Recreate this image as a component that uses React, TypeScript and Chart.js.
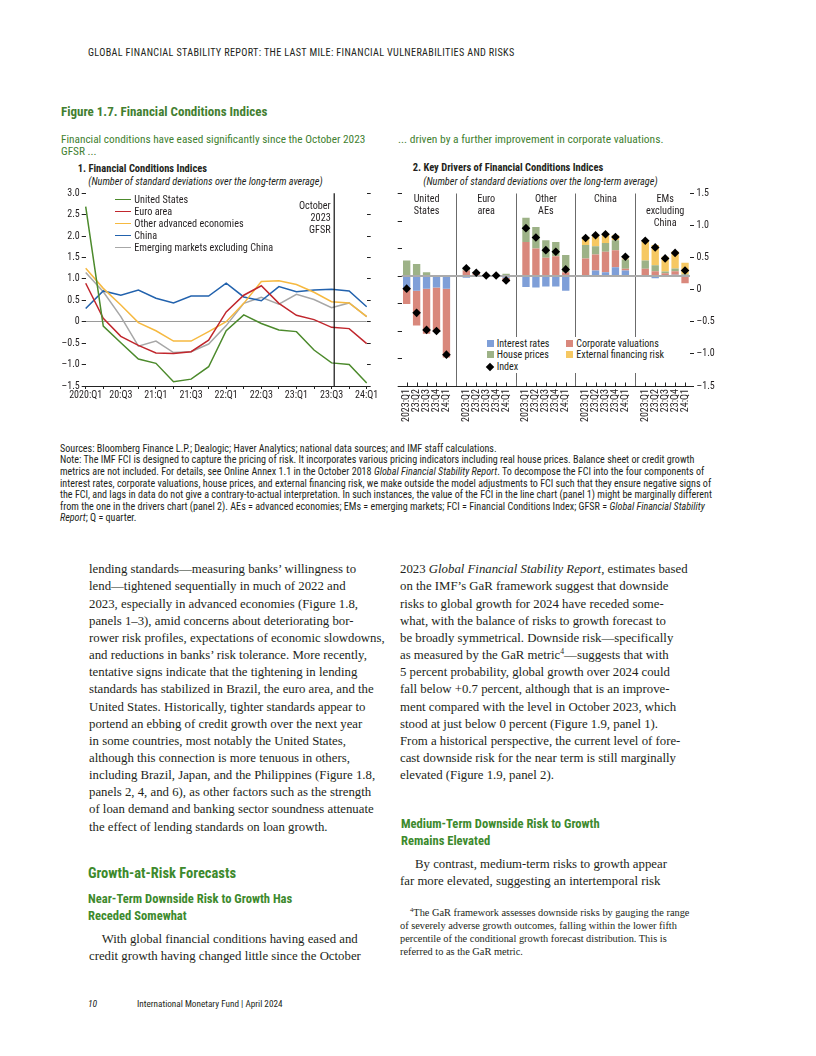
import React, { useEffect, useRef } from "react";
import { Chart, registerables } from "chart.js";

Chart.register(...registerables);

const NARROW = "'Roboto Condensed', 'Open Sans Condensed', 'DejaVu Sans Condensed', sans-serif";
const SERIF = "'Liberation Serif', 'Times New Roman', serif";
const INK = "#231f20";
const GREEN = "#437f31";
const HEAD_GREEN = "#3d8a2d";

// ---------------- Panel 1 data ----------------
const QUARTERS = ["2020:Q1", "20:Q2", "20:Q3", "20:Q4", "21:Q1", "21:Q2", "21:Q3", "21:Q4", "22:Q1", "22:Q2", "22:Q3", "22:Q4", "23:Q1", "23:Q2", "23:Q3", "23:Q4", "24:Q1"];
const UNITED_STATES = [2.69, -0.10, -0.49, -0.87, -0.97, -1.40, -1.34, -1.05, -0.21, 0.16, -0.04, -0.19, -0.23, -0.66, -0.96, -1.00, -1.43];
const EURO_AREA = [0.90, 0.08, -0.34, -0.55, -0.73, -0.74, -0.70, -0.43, 0.23, 0.62, 0.84, 0.43, 0.15, 0.05, -0.13, -0.16, -0.51];
const OTHER_AES = [1.25, 0.78, 0.39, -0.02, -0.21, -0.45, -0.45, -0.23, 0.00, 0.43, 0.94, 0.96, 0.87, 0.69, 0.47, 0.44, 0.12];
const CHINA = [0.31, 0.72, 0.62, 0.74, 0.55, 0.44, 0.60, 0.60, 0.90, 0.58, 0.49, 0.82, 0.70, 0.74, 0.76, 0.72, 0.35];
const EMS_EX_CHINA = [1.15, 0.70, 0.12, -0.57, -0.45, -0.72, -0.70, -0.52, -0.09, 0.43, 0.57, 0.41, 0.64, 0.52, 0.33, 0.44, 0.12];
const GFSR_POSITION = 14.15;
const GFSR_LABEL = ["October", "2023", "GFSR"];

const LINE_SERIES = [
  { label: "United States", data: UNITED_STATES, color: "#4c8a2c" },
  { label: "Euro area", data: EURO_AREA, color: "#c1272d" },
  { label: "Other advanced economies", data: OTHER_AES, color: "#f6b940" },
  { label: "China", data: CHINA, color: "#2262ad" },
  { label: "Emerging markets excluding China", data: EMS_EX_CHINA, color: "#a7a7a7" },
];

// ---------------- Panel 2 data ----------------
const DRIVER_QUARTERS = ["2023:Q1", "23:Q2", "23:Q3", "23:Q4", "24:Q1"];
const DRIVER_GROUPS = [["United", "States"], ["Euro", "area"], ["Other", "AEs"], ["China"], ["EMs", "excluding", "China"]];
// order within each list: US, Euro area, Other AEs, China, EMs excluding China (5 quarters each)
const INTEREST_RATES = [
  -0.24, -0.27, -0.23, -0.21, -0.23,
  -0.03, -0.02, -0.01, -0.01, -0.03,
  -0.20, -0.21, -0.19, -0.19, -0.27,
  0.01, 0.10, 0.07, 0.16, 0.10,
  0.01, -0.04, 0.01, 0.025, 0.0,
];
const CORPORATE_VALUATIONS = [
  -0.27, -0.63, -0.82, -0.81, -1.25,
  0.10, 0.05, 0.01, 0.01, -0.07,
  0.62, 0.50, 0.33, 0.36, 0.07,
  0.31, 0.29, 0.37, 0.31, 0.03,
  0.12, 0.085, 0.04, 0.06, -0.13,
];
const HOUSE_PRICES = [
  0.28, 0.22, 0.07, 0.0, 0.0,
  0.03, 0.01, 0.01, 0.01, 0.04,
  0.44, 0.39, 0.32, 0.26, 0.31,
  0.245, 0.15, 0.16, 0.18, 0.17,
  0.15, 0.11, 0.03, 0.05, 0.03,
];
const EXTERNAL_FINANCING = [
  0, 0, 0, 0, 0,
  0, 0, 0, 0, 0,
  0, 0, 0, 0, 0,
  0.15, 0.20, 0.17, 0.09, 0.02,
  0.35, 0.37, 0.27, 0.31, 0.21,
];
const INDEX_VALUES = [
  -0.23, -0.67, -0.98, -1.00, -1.43,
  0.14, 0.06, 0.01, 0.01, -0.08,
  0.87, 0.70, 0.47, 0.44, 0.12,
  0.69, 0.74, 0.76, 0.71, 0.35,
  0.64, 0.52, 0.32, 0.42, 0.10,
];

const DRIVER_SERIES = [
  { label: "Interest rates", data: INTEREST_RATES, color: "#7f9fd8" },
  { label: "Corporate valuations", data: CORPORATE_VALUATIONS, color: "#d9887c" },
  { label: "House prices", data: HOUSE_PRICES, color: "#9db287" },
  { label: "External financing risk", data: EXTERNAL_FINANCING, color: "#f6c862" },
];

// build category list with a blank category between groups
const GAP_INDICES: number[] = [];
const DRIVER_LABELS: string[] = [];
DRIVER_GROUPS.forEach((_, g) => {
  DRIVER_QUARTERS.forEach((q) => DRIVER_LABELS.push(q));
  if (g < DRIVER_GROUPS.length - 1) {
    GAP_INDICES.push(DRIVER_LABELS.length);
    DRIVER_LABELS.push("");
  }
});
function withGaps(values: number[]): (number | null)[] {
  const out: (number | null)[] = [];
  DRIVER_GROUPS.forEach((_, g) => {
    for (let q = 0; q < DRIVER_QUARTERS.length; q++) out.push(values[g * DRIVER_QUARTERS.length + q]);
    if (g < DRIVER_GROUPS.length - 1) out.push(null);
  });
  return out;
}

const fmtTick = (v: number) => (v === 0 ? "0" : (v < 0 ? "\u2013" : "") + Math.abs(v).toFixed(1));
const tickFont = { family: NARROW, size: 10 };

// ---------------- Panel 1 chart ----------------
const gfsrPlugin = {
  id: "gfsrLine",
  afterDatasetsDraw(chart: any) {
    const { ctx, chartArea, scales } = chart;
    const px = scales.x.getPixelForValue(GFSR_POSITION);
    ctx.save();
    ctx.strokeStyle = "#111";
    ctx.lineWidth = 1.2;
    ctx.beginPath();
    ctx.moveTo(px, chartArea.top);
    ctx.lineTo(px, chartArea.bottom);
    ctx.stroke();
    ctx.fillStyle = INK;
    ctx.font = `10.2px ${NARROW}`;
    ctx.textAlign = "right";
    ctx.textBaseline = "middle";
    GFSR_LABEL.forEach((t, i) => ctx.fillText(t, px - 3.5, chartArea.top + 13.4 + i * 11.7));
    ctx.restore();
  },
};

function FciChart() {
  const ref = useRef<HTMLCanvasElement>(null);
  useEffect(() => {
    const chart = new Chart(ref.current as HTMLCanvasElement, {
      type: "line",
      data: {
        labels: QUARTERS,
        datasets: LINE_SERIES.map((s) => ({
          label: s.label,
          data: s.data,
          borderColor: s.color,
          backgroundColor: s.color,
          borderWidth: 1.5,
          pointRadius: 0,
          tension: 0,
        })),
      },
      options: {
        responsive: false,
        animation: false,
        layout: { padding: { top: 8.3, left: 0, right: 0, bottom: 0 } },
        plugins: { legend: { display: false }, tooltip: { enabled: false } },
        scales: {
          x: {
            type: "category",
            offset: false,
            border: { display: true, color: "#222", width: 1 },
            grid: { display: true, drawOnChartArea: false, drawTicks: true, tickLength: 3, tickColor: "#222" },
            ticks: {
              autoSkip: false,
              maxRotation: 0,
              minRotation: 0,
              padding: 0,
              color: INK,
              font: tickFont,
              callback: (_v: any, i: number) => (i % 2 === 0 ? QUARTERS[i] : ""),
            },
            afterFit: (s: any) => { s.height = 24; },
          },
          y: {
            position: "left",
            min: -1.5,
            max: 3,
            border: { display: false },
            grid: {
              drawOnChartArea: true,
              drawTicks: true,
              tickLength: 4,
              tickColor: "#222",
              color: (c: any) => (c.tick && c.tick.value === 0 ? "#9a9a9a" : "rgba(0,0,0,0)"),
            },
            ticks: { stepSize: 0.5, padding: 2, color: INK, font: tickFont, callback: (v: any) => fmtTick(Number(v)) },
            afterFit: (s: any) => { s.width = 35.7; },
          },
          y2: {
            position: "right",
            min: -1.5,
            max: 3,
            border: { display: false },
            grid: { drawOnChartArea: false, drawTicks: true, tickLength: 4, tickColor: "#222" },
            ticks: { stepSize: 0.5, padding: 0, font: tickFont, callback: () => "" },
            afterFit: (s: any) => { s.width = 13.3; },
          },
        },
      } as any,
      plugins: [gfsrPlugin],
    });
    return () => chart.destroy();
  }, []);
  return (
    <canvas
      ref={ref}
      width={330}
      height={225}
      style={{ position: "absolute", left: 50, top: 185, width: 330, height: 225 }}
    />
  );
}

// ---------------- Panel 2 chart ----------------
const INDEX_DATASET = DRIVER_SERIES.length;
const driversPlugin = {
  id: "driversDecor",
  beforeDatasetDraw(chart: any, args: any) {
    if (args.index !== INDEX_DATASET) return;
    const { ctx, chartArea, scales } = chart;
    const y0 = scales.y.getPixelForValue(0);
    ctx.save();
    ctx.strokeStyle = "#ababab";
    ctx.lineWidth = 2;
    ctx.beginPath();
    ctx.moveTo(chartArea.left, y0);
    ctx.lineTo(chartArea.right, y0);
    ctx.stroke();
    ctx.restore();
  },
  afterDraw(chart: any) {
    const { ctx, chartArea, scales } = chart;
    ctx.save();
    // small inside ticks on the category axis
    ctx.strokeStyle = "#222";
    ctx.lineWidth = 1;
    DRIVER_LABELS.forEach((_, i) => {
      if (GAP_INDICES.includes(i)) return;
      const px = Math.round(scales.x.getPixelForValue(i)) + 0.5;
      ctx.beginPath();
      ctx.moveTo(px, chartArea.bottom);
      ctx.lineTo(px, chartArea.bottom - 3.5);
      ctx.stroke();
    });
    // group names
    ctx.fillStyle = INK;
    ctx.font = `10.2px ${NARROW}`;
    ctx.textAlign = "center";
    ctx.textBaseline = "middle";
    DRIVER_GROUPS.forEach((lines, g) => {
      const px = scales.x.getPixelForValue(g * (DRIVER_QUARTERS.length + 1) + 2);
      lines.forEach((t, k) => ctx.fillText(t, px, chartArea.top + 6.2 + k * 12));
    });
    ctx.restore();
  },
};

function DriversChart() {
  const ref = useRef<HTMLCanvasElement>(null);
  useEffect(() => {
    const chart = new Chart(ref.current as HTMLCanvasElement, {
      type: "bar",
      data: {
        labels: DRIVER_LABELS,
        datasets: [
          ...DRIVER_SERIES.map((s) => ({
            type: "bar" as const,
            label: s.label,
            data: withGaps(s.data),
            backgroundColor: s.color,
            borderWidth: 0,
            categoryPercentage: 0.74,
            barPercentage: 1,
            stack: "drivers",
            order: 1,
          })),
          {
            type: "line" as const,
            label: "Index",
            data: withGaps(INDEX_VALUES),
            showLine: false,
            pointStyle: "rectRot",
            pointRadius: 4.3,
            pointBackgroundColor: "#000",
            pointBorderColor: "#000",
            pointBorderWidth: 0,
            stack: "index",
            order: 0,
          },
        ],
      },
      options: {
        responsive: false,
        animation: false,
        layout: { padding: { top: 8.3, left: 0, right: 0, bottom: 0 } },
        plugins: { legend: { display: false }, tooltip: { enabled: false } },
        scales: {
          x: {
            type: "category",
            stacked: true,
            offset: true,
            border: { display: true, color: "#222", width: 1 },
            grid: {
              offset: false,
              drawOnChartArea: true,
              drawTicks: false,
              color: (c: any) => (GAP_INDICES.includes(c.index) ? "#6b6b6b" : "rgba(0,0,0,0)"),
              lineWidth: 1,
            },
            ticks: { autoSkip: false, maxRotation: 90, minRotation: 90, padding: 3, color: INK, font: tickFont },
            afterFit: (s: any) => { s.height = 49; },
          },
          y: {
            position: "left",
            stacked: true,
            min: -2,
            max: 1.5,
            border: { display: false },
            grid: { drawOnChartArea: false, drawTicks: true, tickLength: 4, tickColor: "#222" },
            ticks: { stepSize: 0.5, padding: 0, font: tickFont, callback: () => "" },
            afterFit: (s: any) => { s.width = 16.7; },
          },
          y2: {
            position: "right",
            min: -1.5,
            max: 1.5,
            border: { display: false },
            grid: { drawOnChartArea: false, drawTicks: true, tickLength: 4, tickColor: "#222" },
            ticks: { stepSize: 0.5, padding: 2.5, color: INK, font: tickFont, callback: (v: any) => fmtTick(Number(v)) },
            afterFit: (s: any) => { s.width = 40; },
          },
        },
      } as any,
      plugins: [driversPlugin],
    });
    return () => chart.destroy();
  }, []);
  return (
    <canvas
      ref={ref}
      width={345}
      height={250}
      style={{ position: "absolute", left: 385, top: 185, width: 345, height: 250 }}
    />
  );
}

// ---------------- text helpers ----------------
type TxtProps = {
  x: number;
  cy: number;
  size: number;
  lh?: number;
  family?: string;
  weight?: number;
  italic?: boolean;
  color?: string;
  ls?: number;
  children?: React.ReactNode;
};
function Txt({ x, cy, size, lh, family = NARROW, weight = 400, italic = false, color = INK, ls = 0, children }: TxtProps) {
  const h = lh ?? size * 1.2;
  return (
    <div
      style={{
        position: "absolute",
        left: x,
        top: cy - h / 2,
        fontSize: size,
        lineHeight: `${h}px`,
        fontFamily: family,
        fontWeight: weight,
        fontStyle: italic ? "italic" : "normal",
        color,
        letterSpacing: ls,
        whiteSpace: "nowrap",
      }}
    >
      {children}
    </div>
  );
}

const NOTE_LINES: React.ReactNode[] = [
  "Sources: Bloomberg Finance L.P.; Dealogic; Haver Analytics; national data sources; and IMF staff calculations.",
  "Note: The IMF FCI is designed to capture the pricing of risk. It incorporates various pricing indicators including real house prices. Balance sheet or credit growth",
  <>metrics are not included. For details, see Online Annex 1.1 in the October 2018 <i>Global Financial Stability Report</i>. To decompose the FCI into the four components of</>,
  "interest rates, corporate valuations, house prices, and external financing risk, we make outside the model adjustments to FCI such that they ensure negative signs of",
  "the FCI, and lags in data do not give a contrary-to-actual interpretation. In such instances, the value of the FCI in the line chart (panel 1) might be marginally different",
  <>from the one in the drivers chart (panel 2). AEs = advanced economies; EMs = emerging markets; FCI = Financial Conditions Index; GFSR = <i>Global Financial Stability</i></>,
  <><i>Report</i>; Q = quarter.</>,
];

const LEFT_BODY = [
  "lending standards\u2014measuring banks\u2019 willingness to",
  "lend\u2014tightened sequentially in much of 2022 and",
  "2023, especially in advanced economies (Figure 1.8,",
  "panels 1\u20133), amid concerns about deteriorating bor-",
  "rower risk profiles, expectations of economic slowdowns,",
  "and reductions in banks\u2019 risk tolerance. More recently,",
  "tentative signs indicate that the tightening in lending",
  "standards has stabilized in Brazil, the euro area, and the",
  "United States. Historically, tighter standards appear to",
  "portend an ebbing of credit growth over the next year",
  "in some countries, most notably the United States,",
  "although this connection is more tenuous in others,",
  "including Brazil, Japan, and the Philippines (Figure 1.8,",
  "panels 2, 4, and 6), as other factors such as the strength",
  "of loan demand and banking sector soundness attenuate",
  "the effect of lending standards on loan growth.",
];

const RIGHT_BODY: React.ReactNode[] = [
  <>2023 <i>Global Financial Stability Report</i>, estimates based</>,
  "on the IMF\u2019s GaR framework suggest that downside",
  "risks to global growth for 2024 have receded some-",
  "what, with the balance of risks to growth forecast to",
  "be broadly symmetrical. Downside risk\u2014specifically",
  <>as measured by the GaR metric<sup style={{ fontSize: "0.6em", lineHeight: 0 }}>4</sup>{"\u2014suggests that with"}</>,
  "5 percent probability, global growth over 2024 could",
  "fall below +0.7 percent, although that is an improve-",
  "ment compared with the level in October 2023, which",
  "stood at just below 0 percent (Figure 1.9, panel 1).",
  "From a historical perspective, the current level of fore-",
  "cast downside risk for the near term is still marginally",
  "elevated (Figure 1.9, panel 2).",
];

const FOOTNOTE: React.ReactNode[] = [
  <><sup style={{ fontSize: "0.65em", lineHeight: 0 }}>4</sup>The GaR framework assesses downside risks by gauging the range</>,
  "of severely adverse growth outcomes, falling within the lower fifth",
  "percentile of the conditional growth forecast distribution. This is",
  "referred to as the GaR metric.",
];

const BODY_SIZE = 12.8;
const BODY_STEP = 17.15;

export default function App() {
  return (
    <div style={{ position: "absolute", left: 0, top: 0, width: 816, height: 1056, background: "#fff", overflow: "hidden" }}>
      <Txt x={88} cy={52.7} size={10.2} ls={0.33}>GLOBAL FINANCIAL STABILITY REPORT: THE LAST MILE: FINANCIAL VULNERABILITIES AND RISKS</Txt>

      <Txt x={61} cy={111.7} size={13} weight={700} color={GREEN}>Figure 1.7. Financial Conditions Indices</Txt>
      <Txt x={61} cy={139.5} size={11.3} lh={11} color={GREEN}>Financial conditions have eased significantly since the October 2023</Txt>
      <Txt x={61} cy={151} size={11.3} lh={11} color={GREEN}>GFSR ...</Txt>
      <Txt x={398} cy={139.5} size={11.5} lh={11} color={GREEN}>... driven by a further improvement in corporate valuations.</Txt>

      <Txt x={77.7} cy={168.3} size={10.5} lh={11} weight={700}>1. Financial Conditions Indices</Txt>
      <Txt x={88.3} cy={181} size={10.25} lh={11} italic>(Number of standard deviations over the long-term average)</Txt>
      <Txt x={412.7} cy={167.8} size={10.5} lh={11} weight={700}>2. Key Drivers of Financial Conditions Indices</Txt>
      <Txt x={423.3} cy={181} size={10.25} lh={11} italic>(Number of standard deviations over the long-term average)</Txt>

      <FciChart />
      <DriversChart />

      {LINE_SERIES.map((s, i) => (
        <React.Fragment key={s.label}>
          <div style={{ position: "absolute", left: 115, top: 199.5 + i * 12 - 0.8, width: 16, height: 1.6, background: s.color }} />
          <Txt x={134.3} cy={199.5 + i * 12} size={10.2} lh={11.5}>{s.label}</Txt>
        </React.Fragment>
      ))}

      <div style={{ position: "absolute", left: 483, top: 336.5, width: 186, height: 36, background: "#fff" }} />
      {[
        { s: DRIVER_SERIES[0], x: 486.5, row: 0 },
        { s: DRIVER_SERIES[2], x: 486.5, row: 1 },
        { s: DRIVER_SERIES[1], x: 566, row: 0 },
        { s: DRIVER_SERIES[3], x: 566, row: 1 },
      ].map(({ s, x, row }) => (
        <React.Fragment key={s.label}>
          <div style={{ position: "absolute", left: x, top: 343.3 + row * 11.6 - 3.6, width: 7.2, height: 7.2, background: s.color }} />
          <Txt x={x + 10.2} cy={343.3 + row * 11.6} size={10.1} lh={11}>{s.label}</Txt>
        </React.Fragment>
      ))}
      <div style={{ position: "absolute", left: 487.1, top: 343.3 + 2 * 11.6 - 3, width: 6, height: 6, background: "#000", transform: "rotate(45deg)" }} />
      <Txt x={496.7} cy={343.3 + 2 * 11.6} size={10.1} lh={11}>Index</Txt>

      {NOTE_LINES.map((t, i) => (
        <Txt key={i} x={60} cy={448.5 + i * 11.6} size={10.1} lh={11.4}>{t}</Txt>
      ))}

      {LEFT_BODY.map((t, i) => (
        <Txt key={i} x={89} cy={570 + i * BODY_STEP} size={BODY_SIZE} family={SERIF}>{t}</Txt>
      ))}
      {RIGHT_BODY.map((t, i) => (
        <Txt key={i} x={400} cy={570 + i * BODY_STEP} size={BODY_SIZE} family={SERIF}>{t}</Txt>
      ))}

      <Txt x={88} cy={873.3} size={14.5} weight={700} color={HEAD_GREEN}>Growth-at-Risk Forecasts</Txt>
      <Txt x={88} cy={898.3} size={12.6} lh={15} weight={700} color={HEAD_GREEN}>Near-Term Downside Risk to Growth Has</Txt>
      <Txt x={88} cy={915} size={12.6} lh={15} weight={700} color={HEAD_GREEN}>Receded Somewhat</Txt>
      <Txt x={101.7} cy={939.3} size={BODY_SIZE} family={SERIF}>With global financial conditions having eased and</Txt>
      <Txt x={89} cy={956.2} size={BODY_SIZE} family={SERIF}>credit growth having changed little since the October</Txt>

      <Txt x={401} cy={823.3} size={12.6} lh={15} weight={700} color={HEAD_GREEN}>Medium-Term Downside Risk to Growth</Txt>
      <Txt x={401} cy={840} size={12.6} lh={15} weight={700} color={HEAD_GREEN}>Remains Elevated</Txt>
      <Txt x={415} cy={865} size={BODY_SIZE} family={SERIF}>By contrast, medium-term risks to growth appear</Txt>
      <Txt x={400} cy={881.8} size={BODY_SIZE} family={SERIF}>far more elevated, suggesting an intertemporal risk</Txt>

      {FOOTNOTE.map((t, i) => (
        <Txt key={i} x={i === 0 ? 410 : 400} cy={913.3 + i * 12.8} size={10.35} lh={12.4} family={SERIF}>{t}</Txt>
      ))}

      <Txt x={88} cy={1004} size={9.6} italic>10</Txt>
      <Txt x={137} cy={1004} size={9.2}>International Monetary Fund | April 2024</Txt>
    </div>
  );
}
